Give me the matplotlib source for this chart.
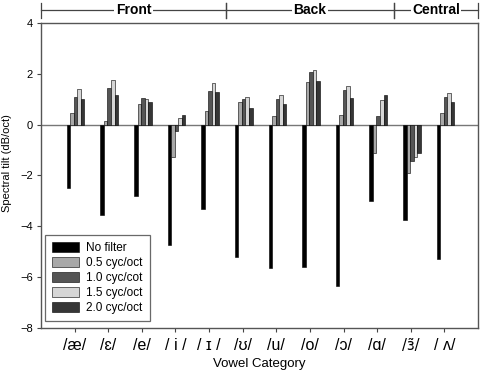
import matplotlib
matplotlib.use("Agg")
import matplotlib.pyplot as plt
import numpy as np
from matplotlib.transforms import blended_transform_factory

plt.rcParams['font.family'] = ['Liberation Sans', 'DejaVu Sans']

categories = ['/æ/', '/ɛ/', '/e/', '/ i /', '/ ɪ /', '/ʊ/', '/u/', '/o/', '/ɔ/', '/ɑ/', '/ɜ̃/', '/ ʌ/']
series_names = ['No filter', '0.5 cyc/oct', '1.0 cyc/cot', '1.5 cyc/oct', '2.0 cyc/oct']
no_filter = [-2.5, -3.55, -2.8, -4.75, -3.3, -5.2, -5.65, -5.6, -6.35, -3.0, -3.75, -5.3]
cyc05 = [0.45, 0.16, 0.82, -1.26, 0.55, 0.9, 0.35, 1.69, 0.38, -1.1, -1.92, 0.47]
cyc10 = [1.1, 1.45, 1.06, -0.23, 1.33, 1.02, 1.02, 2.08, 1.35, 0.36, -1.41, 1.1]
cyc15 = [1.41, 1.76, 1.0, 0.26, 1.63, 1.1, 1.18, 2.15, 1.53, 0.98, -1.28, 1.25]
cyc20 = [1.02, 1.17, 0.9, 0.38, 1.27, 0.67, 0.82, 1.73, 1.05, 1.18, -1.1, 0.9]
groups = ['Front', 'Back', 'Central']
group_bounds = [(-1.0, 4.5), (4.5, 9.5), (9.5, 12.0)]

series = [no_filter, cyc05, cyc10, cyc15, cyc20]
colors = ['#000000', '#a8a8a8', '#555555', '#d6d6d6', '#363636']

fig = plt.figure(figsize=(4.8, 3.76), dpi=100)
ax = fig.add_axes([0.0854, 0.1277, 0.9106, 0.8111])

x = np.arange(len(categories))
w = 0.105
for k, (vals, c, name) in enumerate(zip(series, colors, series_names)):
    ax.bar(x + (k - 2) * w + 0.03, vals, width=w, color=c, edgecolor='black',
           linewidth=0.4, label=name, zorder=3)

ax.axhline(0, color='#777777', linewidth=1.0, zorder=2)
ax.set_xlim(-1, 12)
ax.set_ylim(-8, 4)
ax.set_yticks([-8, -6, -4, -2, 0, 2, 4])
ax.set_xticks(x)
ax.set_xticklabels(categories, fontsize=11.5)
for lab in ax.get_xticklabels():
    if '\u0303' in lab.get_text():
        lab.set_fontfamily('DejaVu Sans')
        lab.set_fontsize(10.5)
ax.tick_params(axis='y', labelsize=8, length=3, direction='out', color='#444444', pad=3)
ax.tick_params(axis='x', length=3, direction='out', color='#444444', pad=4)
for s in ax.spines.values():
    s.set_color('#555555')
    s.set_linewidth(1.0)

ax.set_xlabel('Vowel Category', fontsize=9.5, labelpad=4)
ax.set_ylabel('Spectral tilt (dB/oct)', fontsize=8)
ax.yaxis.set_label_coords(-0.066, 0.54)

leg = ax.legend(loc='lower left', bbox_to_anchor=(0.009, 0.023), borderaxespad=0,
                fontsize=8.5, handlelength=2.3, handleheight=0.85, labelspacing=0.25,
                fancybox=False, frameon=True, borderpad=0.6, handletextpad=0.6)
leg.get_frame().set_edgecolor('#444444')
leg.get_frame().set_linewidth(0.9)

trans = blended_transform_factory(ax.transData, ax.transAxes)
yline = 1.043
for name, (a, b) in zip(groups, group_bounds):
    ax.plot([a, b], [yline, yline], color='#444444', lw=0.9, transform=trans, clip_on=False)
    ax.plot([a, a], [1.018, 1.066], color='#444444', lw=0.9, transform=trans, clip_on=False)
    ax.plot([b, b], [1.018, 1.066], color='#444444', lw=0.9, transform=trans, clip_on=False)
    ax.text((a + b) / 2, yline, name, transform=trans, ha='center', va='center',
            fontsize=10, fontweight='bold',
            bbox=dict(facecolor='white', edgecolor='none', pad=1.0))

fig.savefig('out.png', dpi=100)
